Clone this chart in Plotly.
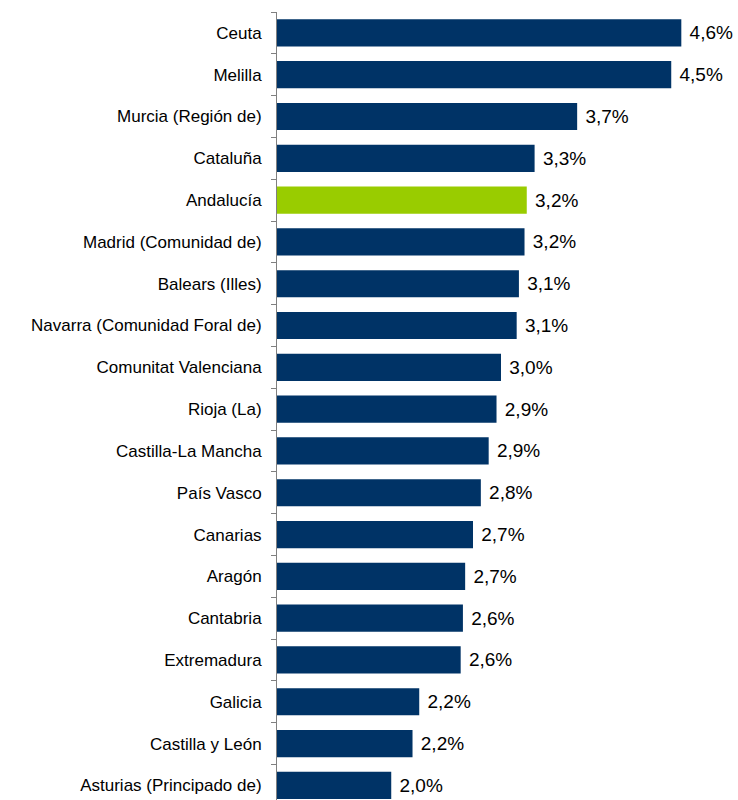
import plotly.graph_objects as go

regions = [
    "Ceuta", "Melilla", "Murcia (Región de)", "Cataluña", "Andalucía",
    "Madrid (Comunidad de)", "Balears (Illes)", "Navarra (Comunidad Foral de)",
    "Comunitat Valenciana", "Rioja (La)", "Castilla-La Mancha", "País Vasco",
    "Canarias", "Aragón", "Cantabria", "Extremadura", "Galicia",
    "Castilla y León", "Asturias (Principado de)",
]
values = [4.59, 4.50, 3.66, 3.28, 3.21, 3.19, 3.14, 3.12, 2.98, 2.94,
          2.87, 2.80, 2.73, 2.66, 2.64, 2.62, 2.25, 2.19, 2.00]
value_labels = ["4,6%", "4,5%", "3,7%", "3,3%", "3,2%", "3,2%", "3,1%", "3,1%",
                "3,0%", "2,9%", "2,9%", "2,8%", "2,7%", "2,7%", "2,6%", "2,6%",
                "2,2%", "2,2%", "2,0%"]
highlight = "Andalucía"
axis_start = 0.98

colors = ["#99CC00" if r == highlight else "#003366" for r in regions]

fig = go.Figure(go.Bar(
    x=[v - axis_start for v in values],
    y=regions,
    orientation="h",
    base=axis_start,
    marker=dict(color=colors, line=dict(width=0)),
    width=0.65,
    text=[" " + t for t in value_labels],
    textposition="outside",
    textfont=dict(size=19, color="#000000", family="Liberation Sans, Arial, sans-serif"),
    cliponaxis=False,
    hoverinfo="skip",
))

fig.update_layout(
    width=738, height=800,
    margin=dict(l=277, r=0, t=12, b=0, autoexpand=False),
    paper_bgcolor="white", plot_bgcolor="white",
    showlegend=False,
    font=dict(family="Liberation Sans, Arial, sans-serif", size=17, color="#000000"),
    xaxis=dict(range=[axis_start, axis_start + 461 / 112], visible=False,
               fixedrange=True, automargin=False),
    yaxis=dict(
        type="category",
        categoryorder="array", categoryarray=regions,
        range=[18.35, -0.5],
        automargin=False,
        showline=True, linecolor="#808080", linewidth=1,
        ticks="outside", tickson="boundaries", ticklen=5, tickcolor="#808080",
        tickfont=dict(size=17, color="#000000"),
        ticklabelstandoff=11,
        showgrid=False, zeroline=False,
        fixedrange=True,
    ),
)

fig.write_html(
    "out.html",
    config={"displayModeBar": False},
    post_script="document.body.style.margin='0';document.body.style.overflow='hidden';",
)
